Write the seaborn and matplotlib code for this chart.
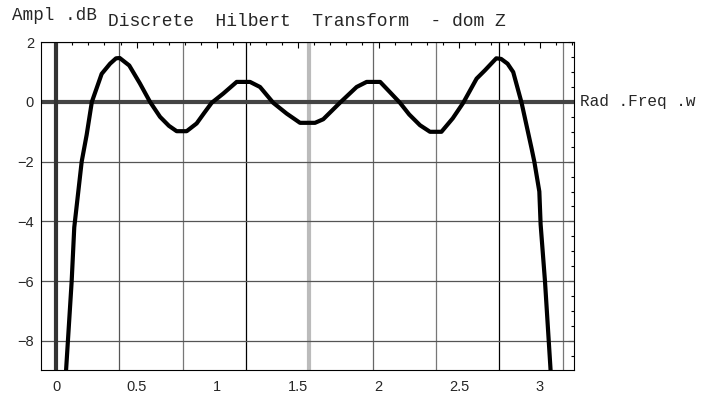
"""Discrete Hilbert transform magnitude response, Mathematica style."""

import matplotlib

matplotlib.use("Agg")
import matplotlib.pyplot as plt
import numpy as np
import pandas as pd
import seaborn as sns
from matplotlib.ticker import MultipleLocator

# curve samples (rad/sample, dB)
freq = [0.055, 0.062, 0.097, 0.113, 0.159, 0.190, 0.222, 0.283, 0.335, 0.372,
        0.395, 0.454, 0.520, 0.583, 0.645, 0.700, 0.748, 0.810, 0.872, 0.920,
        0.965, 1.037, 1.120, 1.203, 1.265, 1.347, 1.430, 1.513, 1.606, 1.657,
        1.760, 1.864, 1.926, 2.010, 2.070, 2.133, 2.190, 2.257, 2.319, 2.390,
        2.460, 2.525, 2.608, 2.660, 2.730, 2.760, 2.800, 2.835, 2.887, 2.949,
        2.966, 2.997, 3.005, 3.032, 3.067, 3.075]
ampl_db = [-9.6, -9.0, -6.0, -4.2, -2.0, -1.1, 0.0, 0.94, 1.28, 1.46,
           1.47, 1.22, 0.62, 0.0, -0.50, -0.80, -0.98, -0.98, -0.72, -0.36,
           -0.03, 0.28, 0.67, 0.67, 0.50, -0.03, -0.39, -0.70, -0.70, -0.58,
           -0.03, 0.50, 0.67, 0.67, 0.33, -0.03, -0.42, -0.78, -1.0, -1.0,
           -0.55, -0.03, 0.78, 1.06, 1.46, 1.44, 1.28, 1.0, -0.03, -1.56,
           -2.0, -3.0, -4.1, -6.0, -9.0, -9.6]

grid_x = [np.pi * k / 8 for k in range(1, 9)]
grid_x_colors = ["#555555", "#777777", "#000000", "#bbbbbb",
                 "#666666", "#777777", "#000000", "#777777"]
grid_y = [2, -2, -4, -6, -8]

x_ticks = [0, 0.5, 1, 1.5, 2, 2.5, 3]
x_tick_labels = ["0", "0.5", "1", "1.5", "2", "2.5", "3"]
y_ticks = [2, 0, -2, -4, -6, -8]

title = "Discrete  Hilbert  Transform  - dom Z"
y_label = "Ampl .dB"
x_label = "Rad .Freq .w"

sns.set_style("white")
plt.rcParams["font.family"] = ["Liberation Sans", "DejaVu Sans"]

df = pd.DataFrame({"w": freq, "dB": ampl_db})

fig = plt.figure(figsize=(7.2, 3.98), dpi=100)
ax = fig.add_axes([0.057, 0.070, 0.740, 0.824])

for gx, col in zip(grid_x, grid_x_colors):
    if abs(gx - np.pi / 2) < 1e-9:
        ax.axvline(gx, color=col, lw=3.0, zorder=1)
    else:
        ax.axvline(gx, color=col, lw=0.9, zorder=1)
for gy in grid_y:
    ax.axhline(gy, color="#555555", lw=0.9, zorder=1)
ax.axhline(0, color="#444444", lw=3.0, zorder=2)
ax.axvline(0, color="#333333", lw=3.0, zorder=2)

sns.lineplot(data=df, x="w", y="dB", ax=ax, color="black", lw=3.0,
             sort=False, estimator=None, zorder=3)

ax.set_xlim(-0.093, 3.211)
ax.set_ylim(-8.98, 1.95)
ax.set_xticks(x_ticks)
ax.set_xticklabels(x_tick_labels)
ax.set_yticks(y_ticks)
ax.xaxis.set_minor_locator(MultipleLocator(0.1))
ax.yaxis.set_minor_locator(MultipleLocator(0.5))
ax.tick_params(which="both", direction="in", top=True, right=True,
               labeltop=False, labelright=False, color="black", width=0.8)
ax.tick_params(which="major", length=4, labelsize=10.5)
ax.tick_params(which="minor", length=2.5)
ax.tick_params(axis="x", which="major", pad=7)
ax.tick_params(axis="y", which="major", pad=5)
ax.set_xlabel("")
ax.set_ylabel("")
for sp in ax.spines.values():
    sp.set_color("black")
    sp.set_linewidth(0.8)

fig.text(12 / 720, 1 - 16 / 398, y_label, family="Liberation Mono",
         fontsize=12.7, ha="left", va="center")
fig.text(108 / 720, 1 - 21 / 398, title, family="Liberation Mono",
         fontsize=13, ha="left", va="center")
ax.text(1.012, 0, x_label, transform=ax.get_yaxis_transform(),
        family="Liberation Mono", fontsize=11.6, ha="left", va="center")

fig.savefig("out.png", dpi=100)
plt.close(fig)
